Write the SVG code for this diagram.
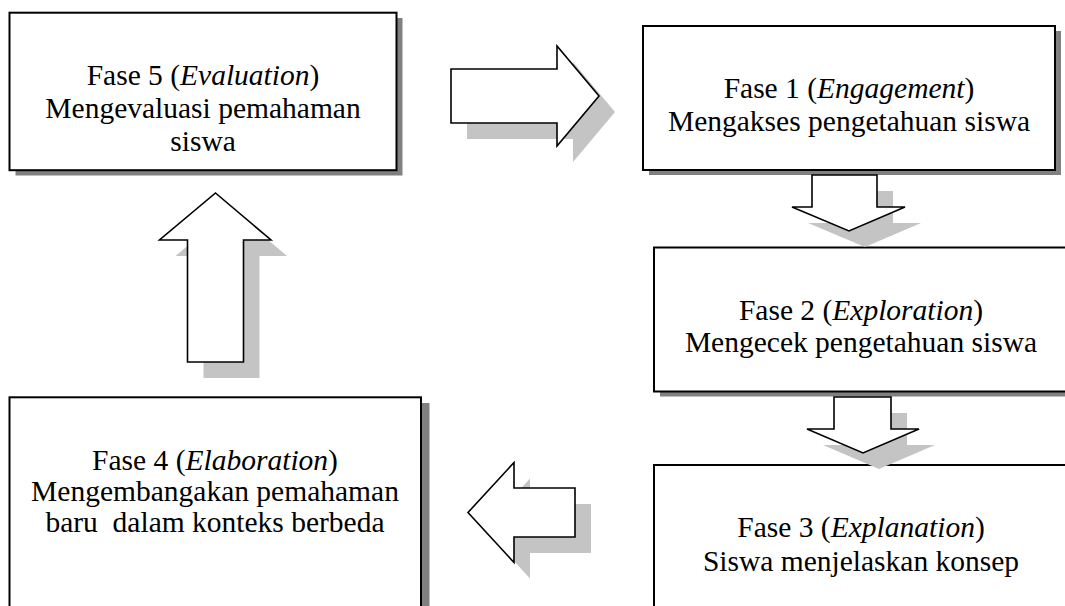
<svg xmlns="http://www.w3.org/2000/svg" width="1065" height="606" viewBox="0 0 1065 606">
<style>
.box{fill:#ffffff;stroke:#000000;stroke-width:2}
.bshadow{fill:#808080}
.ashadow{fill:#c4c4c4}
.arrow{fill:#ffffff;stroke:#000000;stroke-width:1.6;stroke-linejoin:miter}
text{font-family:"Liberation Serif","Times New Roman",Tinos,serif;font-size:29.5px;fill:#000000;text-anchor:middle;white-space:pre}
.it{font-style:italic}
</style>
<rect width="1065" height="606" fill="#ffffff"/>
<g id="fase5">
<rect class="bshadow" x="15.5" y="18" width="387" height="157.5"/>
<rect class="box" x="9.5" y="12.7" width="387" height="157.5"/>
<text x="203" y="85">Fase 5 (<tspan class="it">Evaluation</tspan>)</text>
<text x="203" y="118">Mengevaluasi pemahaman</text>
<text x="203" y="151">siswa</text>
</g>
<g id="fase1">
<rect class="bshadow" x="649" y="31" width="412" height="144"/>
<rect class="box" x="643" y="26" width="412" height="144"/>
<text x="849" y="98">Fase 1 (<tspan class="it">Engagement</tspan>)</text>
<text x="849" y="131">Mengakses pengetahuan siswa</text>
</g>
<g id="fase2">
<rect class="bshadow" x="660" y="252.5" width="420" height="144"/>
<rect class="box" x="654" y="247.5" width="420" height="144"/>
<text x="861" y="320">Fase 2 (<tspan class="it">Exploration</tspan>)</text>
<text x="861" y="352">Mengecek pengetahuan siswa</text>
</g>
<g id="fase3">
<rect class="box" x="654" y="465" width="420" height="160"/>
<text x="861" y="537">Fase 3 (<tspan class="it">Explanation</tspan>)</text>
<text x="861" y="571">Siswa menjelaskan konsep</text>
</g>
<g id="fase4">
<rect class="bshadow" x="421" y="403" width="8.5" height="220"/>
<rect class="box" x="9.5" y="397.3" width="411.5" height="230"/>
<text x="215" y="470">Fase 4 (<tspan class="it">Elaboration</tspan>)</text>
<text x="215" y="501">Mengembangakan pemahaman</text>
<text x="215" y="532">baru  dalam konteks berbeda</text>
</g>
<g id="connectors">
<path class="ashadow" d="M467,85 L573,85 L573,62 L615,112 L573,162 L573,139 L467,139 Z"/>
<path class="arrow" d="M451,69 L557,69 L557,46 L599,96 L557,146 L557,123 L451,123 Z"/>
<path class="ashadow" d="M828,191 L893,191 L893,223 L921,223 L865,247 L808,223 L828,223 Z"/>
<path class="arrow" d="M812,175 L877,175 L877,207 L905,207 L849,231 L792,207 L812,207 Z"/>
<path class="ashadow" d="M850,413 L907,413 L907,445 L935,445 L879,469 L823,445 L850,445 Z"/>
<path class="arrow" d="M834,397 L891,397 L891,429 L919,429 L863,453 L807,429 L834,429 Z"/>
<path class="ashadow" d="M484,528.5 L530,478.5 L530,504 L591,504 L591,553 L530,553 L530,578.5 Z"/>
<path class="arrow" d="M468,512.5 L514,462.5 L514,488 L575,488 L575,537 L514,537 L514,562.5 Z"/>
<path class="ashadow" d="M231.5,209 L287,256 L259.5,256 L259.5,378 L203.5,378 L203.5,256 L175.5,256 Z"/>
<path class="arrow" d="M215.5,193 L271,240 L243.5,240 L243.5,362 L187.5,362 L187.5,240 L159.5,240 Z"/>
</g>
</svg>
